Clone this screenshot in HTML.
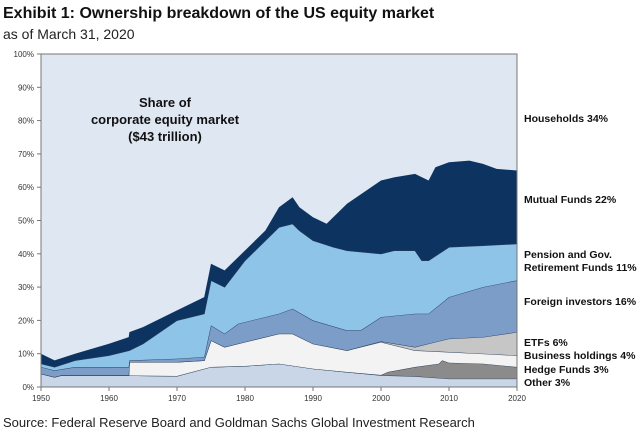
<!DOCTYPE html>
<html><head><meta charset="utf-8"><style>
body{margin:0;background:#fff;width:640px;height:441px;overflow:hidden;font-family:"Liberation Sans",Arial,sans-serif}
</style></head><body>
<svg id="s" width="640" height="441" xmlns="http://www.w3.org/2000/svg" font-family="Liberation Sans, Arial, sans-serif">
<text x="3" y="18" font-size="16" font-weight="bold" fill="#111">Exhibit 1: Ownership breakdown of the US equity market</text>
<text x="3" y="39" font-size="14" fill="#222">as of March 31, 2020</text>
<rect x="41" y="54" width="476" height="333" fill="#dfe7f2"/>
<g id="layers"></g>
<rect x="41" y="54" width="476" height="333" fill="none" stroke="#777" stroke-width="1"/>
<g font-size="13" font-weight="bold" fill="#111" text-anchor="middle">
<text x="165" y="107">Share of</text>
<text x="165" y="124">corporate equity market</text>
<text x="165" y="141">($43 trillion)</text>
</g>
<g id="ax" font-size="8" fill="#333"></g>
<g font-size="10.5" font-weight="bold" fill="#111">
<text x="524" y="122">Households 34%</text>
<text x="524" y="203">Mutual Funds 22%</text>
<text x="524" y="258">Pension and Gov.</text>
<text x="524" y="271">Retirement Funds 11%</text>
<text x="524" y="305">Foreign investors 16%</text>
<text x="524" y="346">ETFs 6%</text>
<text x="524" y="359">Business holdings 4%</text>
<text x="524" y="373">Hedge Funds 3%</text>
<text x="524" y="386">Other 3%</text>
</g>
<text x="3" y="427" font-size="13" fill="#222">Source: Federal Reserve Board and Goldman Sachs Global Investment Research</text>
</svg>
<script>
var NS="http://www.w3.org/2000/svg";
function X(y){return 41+(y-1950)*6.8}
function Y(p){return 387-p*3.33}
var B=[
[[1950,0],[2020,0]],
[[1950,4],[1952,3],[1953,3.5],[1960,3.5],[1970,3.3],[1975,6],[1980,6.3],[1985,7],[1990,5.5],[1995,4.5],[2000,3.5],[2005,3.2],[2010,2.5],[2020,2.5]],
[[1950,4],[1952,3],[1953,3.5],[1960,3.5],[1970,3.3],[1975,6],[1980,6.3],[1985,7],[1990,5.5],[1995,4.5],[2000,3.6],[2001,4.5],[2005,6],[2008.5,7],[2009,8],[2010,7.3],[2015,7],[2020,6]],
[[1950,4],[1952,3],[1953,3.5],[1962.9,3.5],[1963,7.5],[1970,7.5],[1974,8],[1975,14],[1977,12],[1980,13.5],[1985,16],[1987,16],[1990,13],[1995,11],[2000,13.5],[2005,11],[2010,10.5],[2015,10],[2020,9.5]],
[[1950,4],[1952,3],[1953,3.5],[1962.9,3.5],[1963,7.5],[1970,7.5],[1974,8],[1975,14],[1977,12],[1980,13.5],[1985,16],[1987,16],[1990,13],[1995,11],[2000,13.7],[2005,12],[2008,13.5],[2010,14.5],[2015,15],[2020,16.5]],
[[1950,6],[1952,5],[1955,6],[1962.9,6],[1963,8],[1970,8.5],[1974,9],[1975,18.5],[1977,16],[1979,19],[1985,22],[1987,23.5],[1990,20],[1995,17],[1997,17],[2000,21],[2005,22],[2007,22],[2010,27],[2015,30],[2020,32]],
[[1950,7],[1952,6],[1955,8],[1960,9.5],[1963,11],[1965,13],[1970,20],[1974,22],[1975,32],[1977,30],[1980,38],[1985,48],[1987,49],[1988,47],[1990,44],[1993,42],[1995,41],[2000,40],[2002,41],[2005,41],[2006,38],[2007,38],[2010,42],[2015,42.5],[2020,43]],
[[1950,10],[1952,8],[1955,10],[1960,13],[1962.9,15],[1963,16.5],[1965,18],[1970,23],[1974,27],[1975,37],[1977,35],[1980,41],[1983,47],[1985,54],[1987,57],[1988,54],[1990,51],[1992,49],[1995,55],[2000,62],[2002,63],[2005,64],[2007,62],[2008,66],[2010,67.5],[2013,68],[2015,67],[2017,65.5],[2020,65]]
];
var C=["#c9d6e7","#8b8b8b","#f3f3f3","#c6c6c6","#7b9dc7","#8ec4e8","#0d3460"];
var L=document.getElementById("layers");
for(var i=1;i<B.length;i++){
 var lo=B[i-1],hi=B[i],pts=[];
 hi.forEach(function(p){pts.push(X(p[0]).toFixed(1)+","+Y(p[1]).toFixed(1))});
 for(var j=lo.length-1;j>=0;j--)pts.push(X(lo[j][0]).toFixed(1)+","+Y(lo[j][1]).toFixed(1));
 var pg=document.createElementNS(NS,"polygon");pg.setAttribute("points",pts.join(" "));pg.setAttribute("fill",C[i-1]);L.appendChild(pg);
 if(i<B.length-1){var pl=document.createElementNS(NS,"polyline");pl.setAttribute("points",hi.map(function(p){return X(p[0]).toFixed(1)+","+Y(p[1]).toFixed(1)}).join(" "));pl.setAttribute("fill","none");pl.setAttribute("stroke","#2a3f5a");pl.setAttribute("stroke-width","0.9");L.appendChild(pl);}
}
var A=document.getElementById("ax");
for(var k=0;k<=10;k++){var t=document.createElementNS(NS,"text");t.setAttribute("x","34");t.setAttribute("y",(Y(k*10)+3).toFixed(1));t.setAttribute("text-anchor","end");t.textContent=(k*10)+"%";A.appendChild(t);
var ln=document.createElementNS(NS,"line");ln.setAttribute("x1","37");ln.setAttribute("x2","41");ln.setAttribute("y1",Y(k*10));ln.setAttribute("y2",Y(k*10));ln.setAttribute("stroke","#777");A.appendChild(ln);}
for(var y=1950;y<=2020;y+=10){var t=document.createElementNS(NS,"text");t.setAttribute("x",X(y));t.setAttribute("y","401");t.setAttribute("text-anchor","middle");t.textContent=y;A.appendChild(t);
var ln=document.createElementNS(NS,"line");ln.setAttribute("x1",X(y));ln.setAttribute("x2",X(y));ln.setAttribute("y1","387");ln.setAttribute("y2","391");ln.setAttribute("stroke","#777");A.appendChild(ln);}
</script>
</body></html>
